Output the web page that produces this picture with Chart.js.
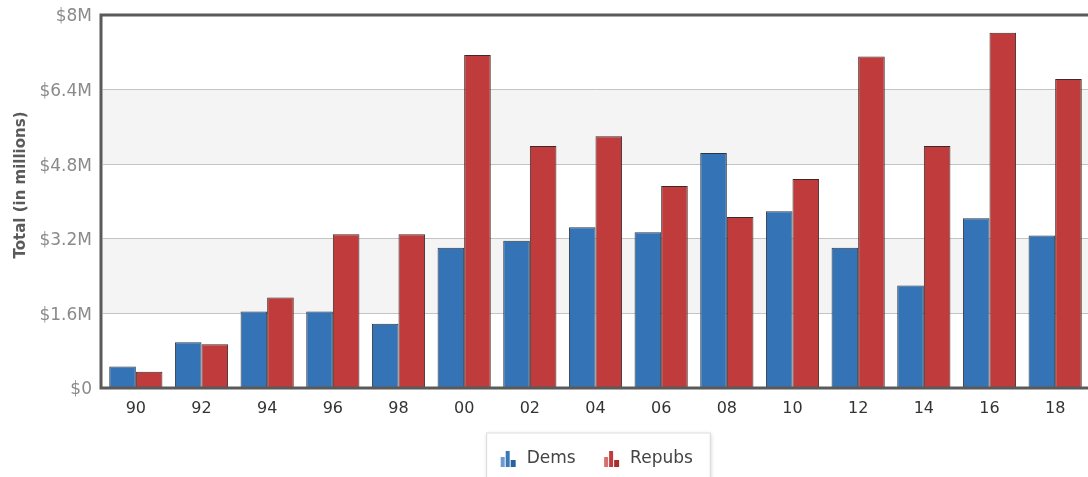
<!DOCTYPE html>
<html>
<head>
<meta charset="utf-8">
<script src="https://cdn.jsdelivr.net/npm/chart.js@4/dist/chart.umd.min.js"></script>
<style>
  html, body { margin: 0; padding: 0; background: #fff; overflow: hidden; }
  #wrap { width: 1092px; height: 477px; }
</style>
</head>
<body>
<div id="wrap"><canvas id="c" width="1092" height="477"></canvas></div>
<script>
// Election cycles (two-digit years)
const cycles = ['90', '92', '94', '96', '98', '00', '02', '04', '06', '08', '10', '12', '14', '16', '18'];
// Totals in millions of dollars
const demsTotals   = [0.46, 0.98, 1.64, 1.64, 1.38, 3.01, 3.16, 3.45, 3.34, 5.04, 3.79, 3.01, 2.20, 3.64, 3.27];
const repubsTotals = [0.35, 0.94, 1.94, 3.30, 3.30, 7.14, 5.19, 5.40, 4.33, 3.67, 4.48, 7.11, 5.19, 7.62, 6.63];
// Value axis ticks (millions)
const yTickValues = [0, 1.6, 3.2, 4.8, 6.4, 8];
const seriesNames = ['Dems', 'Repubs'];
const axisTitle = 'Total (in millions)';

const FONT = "'DejaVu Sans', Verdana, sans-serif";
const BLUE = '#3473b5';
const RED = '#c03b3b';

// Small column-chart glyph used as the legend marker
function columnIcon(dark, mid, light) {
  const c = document.createElement('canvas');
  c.width = 17; c.height = 17;
  const g = c.getContext('2d');
  const cols = [[1, 7, 4, 10, light], [6, 1, 4, 16, mid], [11, 10, 5, 7, dark]];
  cols.forEach(([x, y, w, h, col]) => {
    g.fillStyle = col;
    g.fillRect(x, y, w, h);
  });
  return c;
}
const icons = [
  columnIcon('#2a62a0', '#3a78ba', '#6b9bcf'),
  columnIcon('#a82e2e', '#c03b3b', '#d87070')
];

// Alternating light bands between value ticks
const bandsPlugin = {
  id: 'bands',
  beforeDraw(chart) {
    const { ctx, chartArea: a, scales: { y } } = chart;
    ctx.save();
    ctx.fillStyle = '#f4f4f4';
    for (let i = 1; i < yTickValues.length - 1; i += 2) {
      const top = y.getPixelForValue(yTickValues[i + 1]);
      const bot = y.getPixelForValue(yTickValues[i]);
      ctx.fillRect(a.left - 3, top, a.right - a.left + 3, bot - top);
    }
    ctx.restore();
  }
};

// Legend panel with a thin border and soft shadow
const legendBoxPlugin = {
  id: 'legendBox',
  beforeDraw(chart) {
    const lg = chart.legend;
    if (!lg || !lg.legendHitBoxes || !lg.legendHitBoxes.length) return;
    const hb = lg.legendHitBoxes;
    const left = Math.min(...hb.map(h => h.left)) - 12;
    const right = Math.max(...hb.map(h => h.left + h.width)) + 17;
    const top = hb[0].top + hb[0].height / 2 - 26;
    const { ctx } = chart;
    ctx.save();
    ctx.shadowColor = 'rgba(0,0,0,0.18)';
    ctx.shadowBlur = 4;
    ctx.shadowOffsetX = 1;
    ctx.shadowOffsetY = 1;
    ctx.fillStyle = '#fff';
    ctx.fillRect(left, top, right - left, chart.height - top + 10);
    ctx.restore();
    ctx.save();
    ctx.strokeStyle = '#dcdcdc';
    ctx.lineWidth = 1;
    ctx.strokeRect(left + 0.5, top + 0.5, right - left, chart.height - top + 10);
    ctx.restore();
  }
};

// Dark frame around the plot area, drawn over the bar bases
const framePlugin = {
  id: 'frame',
  afterDatasetsDraw(chart) {
    const { ctx, chartArea: a } = chart;
    ctx.save();
    ctx.strokeStyle = '#5a5a5a';
    ctx.lineWidth = 3;
    ctx.strokeRect(a.left - 2, a.top, a.right - a.left + 5, a.bottom - a.top);
    ctx.restore();
  }
};

// Rotated value-axis title
const axisTitlePlugin = {
  id: 'axisTitle',
  afterDraw(chart) {
    const { ctx } = chart;
    ctx.save();
    ctx.translate(21, 185);
    ctx.rotate(-Math.PI / 2);
    ctx.font = 'bold 15px ' + FONT;
    ctx.fillStyle = '#5a5a5a';
    ctx.textAlign = 'center';
    ctx.textBaseline = 'middle';
    ctx.fillText(axisTitle, 0, 0);
    ctx.restore();
  }
};

const fmt = v => v === 0 ? '$0' : '$' + (+v.toFixed(1)) + 'M';

new Chart(document.getElementById('c'), {
  type: 'bar',
  data: {
    labels: cycles,
    datasets: [
      { label: seriesNames[0], data: demsTotals, backgroundColor: BLUE, borderColor: '#2e3440', borderWidth: 1 },
      { label: seriesNames[1], data: repubsTotals, backgroundColor: RED, borderColor: '#3a2a2a', borderWidth: 1 }
    ]
  },
  options: {
    responsive: false,
    devicePixelRatio: 1,
    animation: false,
    layout: { padding: { left: 0, top: 15, right: 4, bottom: 0 } },
    datasets: { bar: { categoryPercentage: 0.81, barPercentage: 1.0 } },
    scales: {
      x: {
        grid: { display: false, drawTicks: false },
        border: { display: false },
        ticks: { color: '#333', font: { family: FONT, size: 16 }, padding: 11, maxRotation: 0, autoSkip: false },
        afterFit(s) { s.height = 36; }
      },
      y: {
        min: 0, max: 8,
        afterBuildTicks(s) { s.ticks = yTickValues.map(v => ({ value: v })); },
        grid: { color: '#c4c4c4', lineWidth: 1, drawTicks: false },
        border: { display: false },
        ticks: { color: '#8a8a8a', font: { family: FONT, size: 17 }, padding: 11, labelOffset: 2, callback: v => fmt(v) },
        afterFit(s) { s.width = 103; s.paddingTop = 0; s.paddingBottom = 0; }
      }
    },
    plugins: {
      tooltip: { enabled: false },
      legend: {
        position: 'bottom',
        fullSize: false,
        labels: {
          usePointStyle: true,
          pointStyleWidth: 20,
          padding: 26,
          color: '#444',
          font: { family: FONT, size: 17 },
          generateLabels(chart) {
            const items = Chart.defaults.plugins.legend.labels.generateLabels(chart);
            items.forEach((it, i) => { it.pointStyle = icons[i]; });
            return items;
          }
        }
      }
    }
  },
  plugins: [bandsPlugin, legendBoxPlugin, framePlugin, axisTitlePlugin]
});
</script>
</body>
</html>
